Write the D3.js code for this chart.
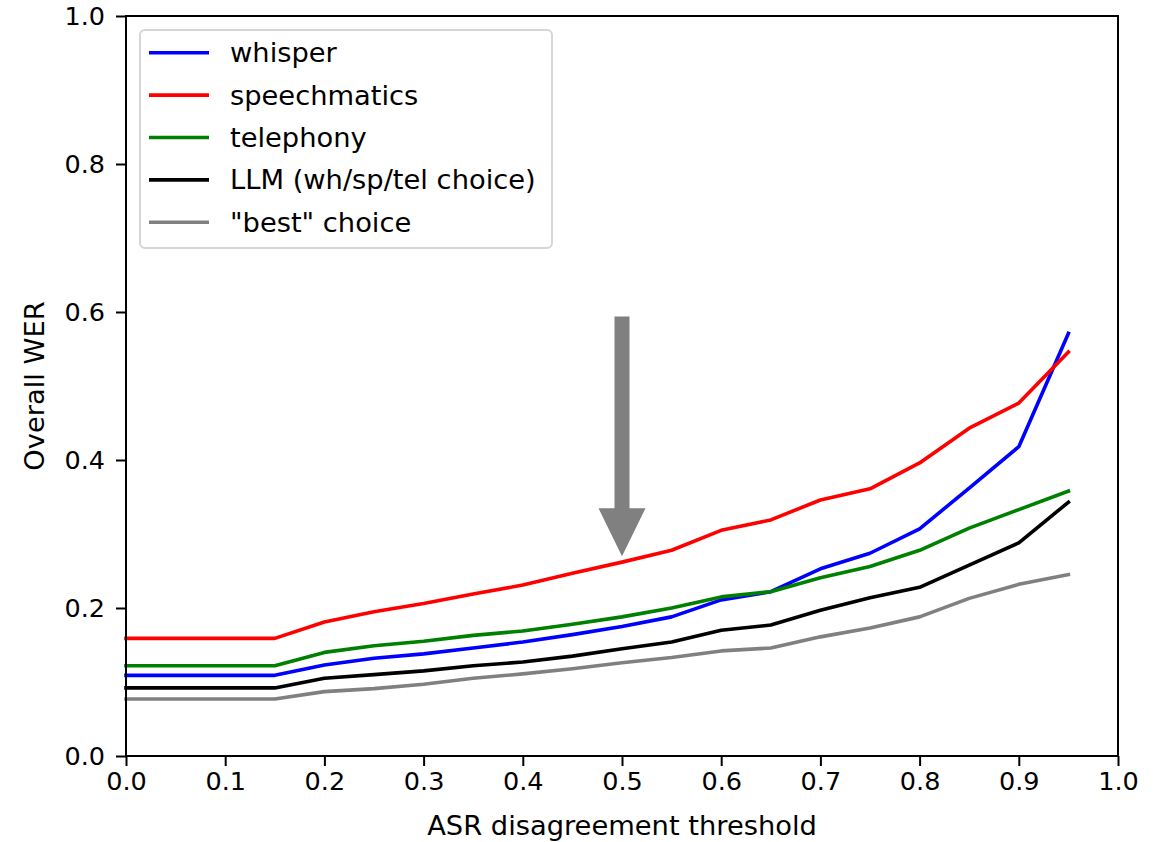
<!DOCTYPE html>
<html>
<head>
<meta charset="utf-8">
<script src="https://cdn.jsdelivr.net/npm/d3@7"></script>
<style>
  body { margin: 0; background: #fff; }
  text { font-family: "DejaVu Sans", sans-serif; }
</style>
</head>
<body>
<svg id="chart"></svg>
<script>
// thresholds on the x axis
var thresholds = [0.0, 0.05, 0.1, 0.15, 0.2, 0.25, 0.3, 0.35, 0.4, 0.45, 0.5, 0.55, 0.6, 0.65, 0.7, 0.75, 0.8, 0.85, 0.9, 0.95]

var whisper      = [0.109, 0.109, 0.109, 0.109, 0.123, 0.132, 0.138, 0.146, 0.154, 0.164, 0.175, 0.188, 0.211, 0.222, 0.253, 0.274, 0.307, 0.362, 0.418, 0.571]
var speechmatics = [0.159, 0.159, 0.159, 0.159, 0.181, 0.195, 0.206, 0.219, 0.231, 0.247, 0.262, 0.278, 0.305, 0.319, 0.346, 0.361, 0.396, 0.443, 0.477, 0.546]
var telephony    = [0.122, 0.122, 0.122, 0.122, 0.140, 0.149, 0.155, 0.163, 0.169, 0.178, 0.188, 0.200, 0.215, 0.222, 0.241, 0.256, 0.278, 0.308, 0.333, 0.358]
var llmChoice    = [0.092, 0.092, 0.092, 0.092, 0.105, 0.110, 0.115, 0.122, 0.127, 0.135, 0.145, 0.154, 0.170, 0.177, 0.197, 0.214, 0.228, 0.258, 0.288, 0.343]
var bestChoice   = [0.077, 0.077, 0.077, 0.077, 0.087, 0.091, 0.097, 0.105, 0.111, 0.118, 0.126, 0.133, 0.142, 0.146, 0.161, 0.173, 0.188, 0.213, 0.232, 0.245]

var seriesNames = ['whisper', 'speechmatics', 'telephony', 'LLM (wh/sp/tel choice)', '"best" choice']
var seriesColors = ['#0000ff', '#ff0000', '#008000', '#000000', '#808080']

var xTicks = [0.0, 0.1, 0.2, 0.3, 0.4, 0.5, 0.6, 0.7, 0.8, 0.9, 1.0]
var yTicks = [0.0, 0.2, 0.4, 0.6, 0.8, 1.0]

// the annotation arrow (data coords): tail and tip
var arrowX = 0.5
var arrowFrom = 0.594
var arrowTo = 0.27

document.addEventListener('DOMContentLoaded', () => {
    drawChart()
})

function drawChart(){
    var W = 1169, H = 842
    var margin = {top: 16, right: 51, bottom: 86, left: 126}

    var svg = d3.select('#chart')
        .attr('width', W)
        .attr('height', H)

    var x = d3.scaleLinear().domain([0, 1]).range([margin.left, W - margin.right])
    var y = d3.scaleLinear().domain([0, 1]).range([H - margin.bottom, margin.top])

    var tickFont = 25.5
    var labelFont = 27.3

    // series lines
    var allSeries = [whisper, speechmatics, telephony, llmChoice, bestChoice]
    var line = d3.line()
        .x((d, i) => x(thresholds[i]))
        .y((d) => y(d))

    allSeries.forEach((vals, idx) => {
        svg.append('path')
           .datum(vals)
           .attr('d', line)
           .attr('fill', 'none')
           .attr('stroke', seriesColors[idx])
           .attr('stroke-width', 3.6)
           .attr('stroke-linejoin', 'round')
           .attr('stroke-linecap', 'square')
    })

    // arrow
    var shaftW = 15, headW = 47, headL = 48
    var ax = x(arrowX), y0 = y(arrowFrom), y1 = y(arrowTo)
    var arrowPath = d3.path()
    arrowPath.moveTo(ax - shaftW / 2, y0)
    arrowPath.lineTo(ax + shaftW / 2, y0)
    arrowPath.lineTo(ax + shaftW / 2, y1 - headL)
    arrowPath.lineTo(ax + headW / 2, y1 - headL)
    arrowPath.lineTo(ax, y1)
    arrowPath.lineTo(ax - headW / 2, y1 - headL)
    arrowPath.lineTo(ax - shaftW / 2, y1 - headL)
    arrowPath.closePath()
    svg.append('path')
       .attr('d', arrowPath.toString())
       .attr('fill', '#808080')

    // axes
    var xAxis = svg.append('g')
       .attr('transform', `translate(0, ${y(0)})`)
       .call(d3.axisBottom(x).tickValues(xTicks).tickFormat(d3.format('.1f')).tickSize(10).tickPadding(6))
    var yAxis = svg.append('g')
       .attr('transform', `translate(${x(0)}, 0)`)
       .call(d3.axisLeft(y).tickValues(yTicks).tickFormat(d3.format('.1f')).tickSize(10).tickPadding(11))
    ;[xAxis, yAxis].forEach((g) => {
        g.select('.domain').remove()
        g.selectAll('line').attr('stroke', '#000').attr('stroke-width', 2)
        g.selectAll('text')
         .attr('font-size', tickFont)
         .attr('font-family', '"DejaVu Sans", sans-serif')
         .attr('fill', '#000')
    })

    // frame
    svg.append('rect')
       .attr('x', x(0))
       .attr('y', y(1))
       .attr('width', x(1) - x(0))
       .attr('height', y(0) - y(1))
       .attr('fill', 'none')
       .attr('stroke', '#000')
       .attr('stroke-width', 2)

    // axis labels
    svg.append('text')
       .attr('x', (x(0) + x(1)) / 2)
       .attr('y', 835)
       .attr('text-anchor', 'middle')
       .attr('font-size', labelFont)
       .attr('fill', '#000')
       .text('ASR disagreement threshold')
    svg.append('text')
       .attr('transform', `translate(44, ${(y(0) + y(1)) / 2}) rotate(-90)`)
       .attr('text-anchor', 'middle')
       .attr('font-size', labelFont)
       .attr('fill', '#000')
       .text('Overall WER')

    // legend
    var legend = svg.append('g')
    legend.append('rect')
       .attr('x', 140)
       .attr('y', 30)
       .attr('width', 412)
       .attr('height', 218)
       .attr('rx', 5)
       .attr('fill', 'rgba(255,255,255,0.8)')
       .attr('stroke', '#d6d6d6')
       .attr('stroke-width', 2)

    var rowPitch = 42.4
    seriesNames.forEach((name, idx) => {
        var ry = 52.7 + idx * rowPitch
        legend.append('line')
           .attr('x1', 149).attr('x2', 209)
           .attr('y1', ry).attr('y2', ry)
           .attr('stroke', seriesColors[idx])
           .attr('stroke-width', 3.6)
        legend.append('text')
           .attr('x', 230)
           .attr('y', ry)
           .attr('dy', '0.35em')
           .attr('font-size', labelFont)
           .attr('fill', '#000')
           .text(name)
    })
}
</script>
</body>
</html>
